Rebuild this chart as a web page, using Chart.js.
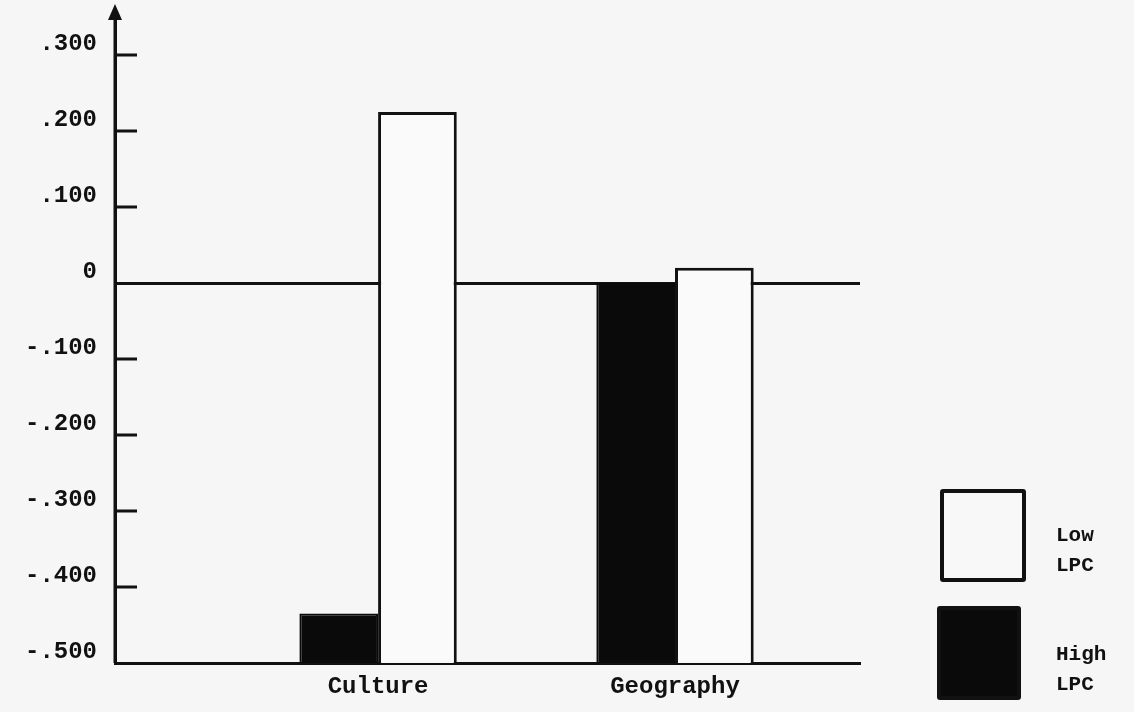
<!DOCTYPE html>
<html>
<head>
<meta charset="utf-8">
<script src="https://cdn.jsdelivr.net/npm/chart.js@4/dist/chart.umd.min.js"></script>
<style>
  html, body { margin: 0; padding: 0; background: #f6f6f6; }
  #wrap { position: relative; width: 1134px; height: 712px; }
  .caja { position: absolute; box-sizing: border-box; border: 4px solid #111; border-radius: 3px; }
  .etiqueta { position: absolute; font-family: 'Courier New', 'Liberation Mono', monospace; font-weight: bold; font-size: 21px; line-height: 30px; color: #111; }
</style>
</head>
<body>
<div id="wrap">
  <canvas id="grafico" width="1134" height="712"></canvas>
  <div class="caja" style="left:940px; top:489px; width:86px; height:93px; background:#f8f8f8;"></div>
  <div class="etiqueta" style="left:1056px; top:521px;">Low<br>LPC</div>
  <div class="caja" style="left:937px; top:606px; width:84px; height:94px; background:#0a0a0a;"></div>
  <div class="etiqueta" style="left:1056px; top:640px;">High<br>LPC</div>
</div>
<script>
// Datos
const categorias = ['Culture', 'Geography'];
const valoresAlto = [-0.435, 0.0];    // High LPC (negro)
const valoresBajo = [0.225, 0.02];    // Low LPC (blanco)
const ticksY = [0.3, 0.2, 0.1, 0, -0.1, -0.2, -0.3, -0.4, -0.5];

const FUENTE = "'Courier New', 'Liberation Mono', monospace";

function formatoTick(v) {
  if (Math.abs(v) < 1e-9) return '0';
  const txt = Math.abs(v).toFixed(3).replace(/^0/, '');
  return v < 0 ? '-' + txt : txt;
}

// Marcas interiores del eje y flecha superior
const marcasEje = {
  id: 'marcasEje',
  afterDraw(chart) {
    const ctx = chart.ctx;
    const y = chart.scales.y;
    const area = chart.chartArea;
    ctx.save();
    ctx.strokeStyle = '#111';
    ctx.lineWidth = 3;
    ticksY.forEach(v => {
      if (v === 0 || v === -0.5) return;
      const py = y.getPixelForValue(v);
      ctx.beginPath();
      ctx.moveTo(area.left, py);
      ctx.lineTo(area.left + 22, py);
      ctx.stroke();
    });
    ctx.beginPath();
    ctx.moveTo(area.left, area.bottom);
    ctx.lineTo(area.left, 14);
    ctx.stroke();
    ctx.fillStyle = '#111';
    ctx.beginPath();
    ctx.moveTo(area.left, 4);
    ctx.lineTo(area.left - 7, 20);
    ctx.lineTo(area.left + 7, 20);
    ctx.closePath();
    ctx.fill();
    ctx.restore();
  }
};

const ctx = document.getElementById('grafico').getContext('2d');
new Chart(ctx, {
  type: 'bar',
  data: {
    datasets: [
      {
        label: 'High LPC',
        data: categorias.map((c, i) => ({ x: i, y: valoresAlto[i] })),
        backgroundColor: '#0a0a0a',
        borderColor: '#0a0a0a',
        borderWidth: 2,
        base: -0.5
      },
      {
        label: 'Low LPC',
        data: categorias.map((c, i) => ({ x: i, y: valoresBajo[i] })),
        backgroundColor: 'rgba(250,250,250,1)',
        borderColor: '#111',
        borderWidth: 3,
        base: -0.5
      }
    ]
  },
  options: {
    responsive: false,
    animation: false,
    categoryPercentage: 0.53,
    barPercentage: 1.0,
    layout: { padding: { top: 17, right: 274, left: 0, bottom: 0 } },
    plugins: {
      legend: { display: false },
      tooltip: { enabled: false }
    },
    scales: {
      x: {
        type: 'linear',
        offset: false,
        min: -0.886,
        max: 1.623,
        afterFit: s => { s.height = 49; s.paddingLeft = 0; s.paddingRight = 0; },
        afterBuildTicks: s => { s.ticks = categorias.map((c, i) => ({ value: i })); },
        ticks: {
          callback: v => categorias[v] || '',
          color: '#111',
          padding: 10,
          font: { family: FUENTE, size: 24, weight: 'bold' }
        },
        grid: { display: false, drawTicks: false },
        border: { display: true, color: '#111', width: 3 }
      },
      y: {
        min: -0.5,
        max: 0.35,
        afterFit: s => { s.width = 115; s.paddingTop = 0; s.paddingBottom = 0; },
        afterBuildTicks: s => { s.ticks = ticksY.map(v => ({ value: v })); },
        ticks: {
          callback: v => formatoTick(v),
          color: '#111',
          padding: 18,
          labelOffset: -11,
          font: { family: FUENTE, size: 24, weight: 'bold' }
        },
        grid: {
          drawTicks: false,
          color: c => (c.tick && c.tick.value === 0 ? '#111' : 'rgba(0,0,0,0)'),
          lineWidth: c => (c.tick && c.tick.value === 0 ? 3 : 0)
        },
        border: { display: true, color: '#111', width: 3 }
      }
    }
  },
  plugins: [marcasEje]
});
</script>
</body>
</html>
